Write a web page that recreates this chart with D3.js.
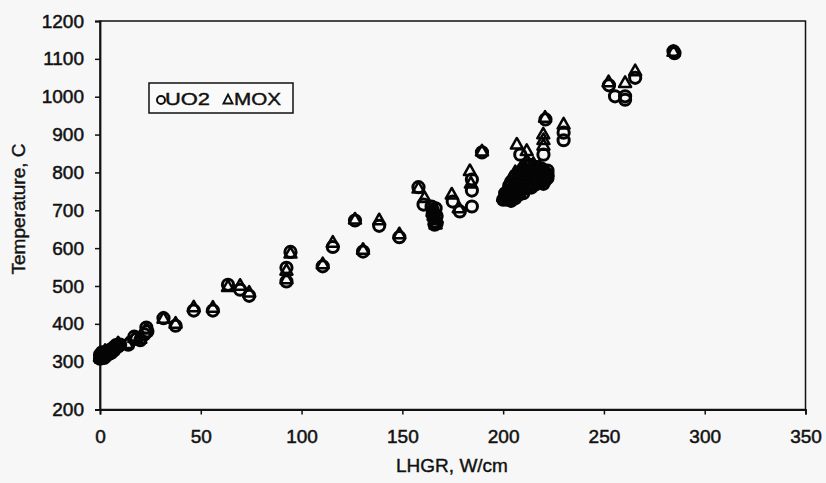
<!DOCTYPE html>
<html>
<head>
<meta charset="utf-8">
<script src="https://cdn.jsdelivr.net/npm/d3@7"></script>
<style>
  html, body { margin: 0; padding: 0; background: #f7f7f7; }
  svg { display: block; }
  text { font-family: "Liberation Sans", Arial, Helvetica, sans-serif; fill: #111; }
</style>
</head>
<body>
<svg id="chart" width="826" height="483"></svg>
<script>
// ---- data ----
const xTicks = [0, 50, 100, 150, 200, 250, 300, 350];
const yTicks = [200, 300, 400, 500, 600, 700, 800, 900, 1000, 1100, 1200];
const seriesNames = ["UO2", "MOX"];

// UO2 (circles): LHGR W/cm and temperature C
const uo2X = [0, 0.5, 1, 1.5, 2, 2.5, 3, 4, 4.5, 5.5, 6, 7, 8, 0, 1, 2, 3, 5, 6, 7, 9, 10,
  14, 17, 18, 20, 22, 23, 23.5, 31.5, 37.5, 46.5, 56, 63.5, 69.5, 74,
  92.5, 92.5, 94.5, 110.5, 115.5, 126.5, 130.5, 138.5, 148.5, 158, 160.5, 165, 165, 165.5, 166, 166, 167, 167, 166.5, 164.5,
  175, 178.5, 184.5, 184.5, 184.5, 189.5,
  200, 201, 202, 203, 203, 204, 205, 205, 206, 206, 207, 207, 208, 208, 209, 209, 210, 210, 211, 211, 212, 212, 213, 213, 214, 214,
  215, 215, 216, 216, 217, 217, 218, 218, 219, 219, 220, 220, 221, 222, 208.5, 212, 220,
  201, 202, 204, 205, 206, 207, 208, 209, 210, 211, 212, 213, 214, 215, 216, 217, 218, 219, 220, 221, 222,
  203, 204, 206, 208, 210, 213, 216, 219, 222,
  221, 230, 230, 252.5, 255.5, 260.5, 260.5, 265.5, 284.5, 285];
const uo2T = [308, 315, 320, 312, 322, 318, 326, 322, 330, 328, 334, 338, 344, 318, 325, 310, 315, 322, 326, 330, 340, 345,
  345, 366, 360, 357, 372, 390, 380, 415, 395, 435, 435, 503, 490, 474,
  548, 512, 590, 552, 603, 673, 591, 659, 629, 761, 715, 700, 690, 680, 670, 662, 665, 685, 705, 710,
  723, 697, 781, 752, 710, 853,
  728, 735, 742, 730, 750, 738, 758, 745, 765, 732, 750, 772, 742, 760, 780, 752, 768, 745, 790, 758, 775, 815, 765, 795, 780, 760,
  800, 772, 785, 768, 792, 775, 780, 800, 785, 775, 790, 780, 792, 785, 847, 816, 847,
  745, 728, 725, 735, 755, 740, 785, 770, 795, 780, 765, 785, 800, 788, 805, 798, 790, 800, 770, 780, 795,
  765, 775, 790, 800, 810, 820, 815, 810, 805,
  940, 905, 885, 1030, 1001, 1001, 992, 1050, 1120, 1115];

// MOX (triangles)
const moxX = [0, 1, 2, 3, 4, 5, 6, 7, 8, 0.5, 2.5, 4.5, 9,
  13.5, 17, 20, 23, 31.5, 37.5, 46.5, 56, 63.5, 69.5, 74,
  92.5, 92.5, 94.5, 110.5, 115.5, 126.5, 130.5, 138.5, 148.5, 158, 161, 165, 165.5, 166, 167, 166, 166.5,
  174.5, 178, 183.5, 184, 189.5,
  200, 201, 202, 203, 204, 205, 206, 207, 207, 208, 209, 209, 210, 211, 211, 212, 213, 213, 214, 215, 215, 216, 217, 218, 219, 220,
  201, 203, 205, 207, 208, 210, 212, 214, 216, 218, 220, 222, 204, 206, 209, 212, 215, 218,
  220, 220, 206.8, 211.7, 219.9, 220.8, 230, 252.3, 260.5, 265.5, 284.5];
const moxT = [312, 318, 316, 322, 326, 332, 330, 336, 342, 308, 328, 322, 348,
  346, 362, 360, 386, 413, 400, 443, 442, 497, 500, 482,
  540, 517, 585, 557, 614, 675, 595, 673, 636, 757, 732, 695, 685, 673, 678, 698, 662,
  741, 705, 803, 770, 855,
  735, 745, 760, 740, 755, 770, 748, 760, 780, 770, 790, 760, 775, 800, 765, 785, 805, 770, 790, 810, 778, 795, 782, 805, 790, 800,
  730, 752, 762, 748, 792, 785, 795, 775, 788, 795, 787, 800, 785, 800, 812, 828, 822, 815,
  885, 870, 873, 856, 900, 944, 926, 1038, 1036, 1067, 1118];

// ---- chart ----
const svg = d3.select("#chart");
const x = d3.scaleLinear().domain([0, 350]).range([100, 805.5]);
const y = d3.scaleLinear().domain([200, 300, 1200]).range([409.5, 361.7, 21]);

// plot border (top & right)
svg.append("rect")
  .attr("x", x(0)).attr("y", y(1200))
  .attr("width", x(350) - x(0)).attr("height", y(200) - y(1200))
  .attr("fill", "none").attr("stroke", "#111").attr("stroke-width", 1.5);

const gx = svg.append("g").attr("transform", `translate(0,${y(200)})`)
  .call(d3.axisBottom(x).tickValues(xTicks).tickSize(5).tickPadding(15).tickFormat(d3.format("d")));
const gy = svg.append("g").attr("transform", `translate(${x(0)},0)`)
  .call(d3.axisLeft(y).tickValues(yTicks).tickSize(5).tickPadding(11).tickFormat(d3.format("d")));
[gx, gy].forEach(g => {
  g.select(".domain").attr("stroke", "#111").attr("stroke-width", 1.8);
  g.selectAll(".tick line").attr("stroke", "#111").attr("stroke-width", 1.5);
  g.selectAll(".tick text").attr("font-size", 19).attr("font-family", "Liberation Sans, Arial, sans-serif")
    .attr("fill", "#111").attr("stroke", "#111").attr("stroke-width", 0.5);
});

// axis titles
svg.append("text").attr("x", 452).attr("y", 472).attr("text-anchor", "middle")
  .attr("font-size", 19).attr("stroke", "#111").attr("stroke-width", 0.4).text("LHGR, W/cm");
svg.append("text").attr("transform", "translate(25,209) rotate(-90)").attr("text-anchor", "middle")
  .attr("font-size", 19).attr("stroke", "#111").attr("stroke-width", 0.4).text("Temperature, C");

// markers
const uo2 = uo2X.map((v, i) => ({ x: v, t: uo2T[i] }));
const mox = moxX.map((v, i) => ({ x: v, t: moxT[i] }));
const tri = "M0,-6.8L6,3.8L-6,3.8Z";

svg.append("g").selectAll("circle").data(uo2).join("circle")
  .attr("cx", d => x(d.x)).attr("cy", d => y(d.t)).attr("r", 5.6)
  .attr("fill", "none").attr("stroke", "#050505").attr("stroke-width", 3);
svg.append("g").selectAll("path").data(mox).join("path")
  .attr("transform", d => `translate(${x(d.x)},${y(d.t)})`).attr("d", tri)
  .attr("fill", "none").attr("stroke", "#050505").attr("stroke-width", 2.5).attr("stroke-linejoin", "round");

// legend
const lg = svg.append("g");
lg.append("rect").attr("x", 149).attr("y", 83).attr("width", 144).attr("height", 30)
  .attr("fill", "#fafafa").attr("stroke", "#111").attr("stroke-width", 1.5);
lg.append("circle").attr("cx", 161).attr("cy", 100).attr("r", 4).attr("fill", "none")
  .attr("stroke", "#111").attr("stroke-width", 2);
lg.append("text").attr("x", 165).attr("y", 104.5).attr("font-size", 16).attr("stroke", "#111").attr("stroke-width", 0.4)
  .attr("textLength", 45).attr("lengthAdjust", "spacingAndGlyphs").text(seriesNames[0]);
lg.append("path").attr("transform", "translate(228,100)").attr("d", "M0,-5.5L4.6,3.5L-4.6,3.5Z")
  .attr("fill", "none").attr("stroke", "#111").attr("stroke-width", 1.8);
lg.append("text").attr("x", 234).attr("y", 104.5).attr("font-size", 16).attr("stroke", "#111").attr("stroke-width", 0.4)
  .attr("textLength", 47).attr("lengthAdjust", "spacingAndGlyphs").text(seriesNames[1]);
</script>
</body>
</html>
